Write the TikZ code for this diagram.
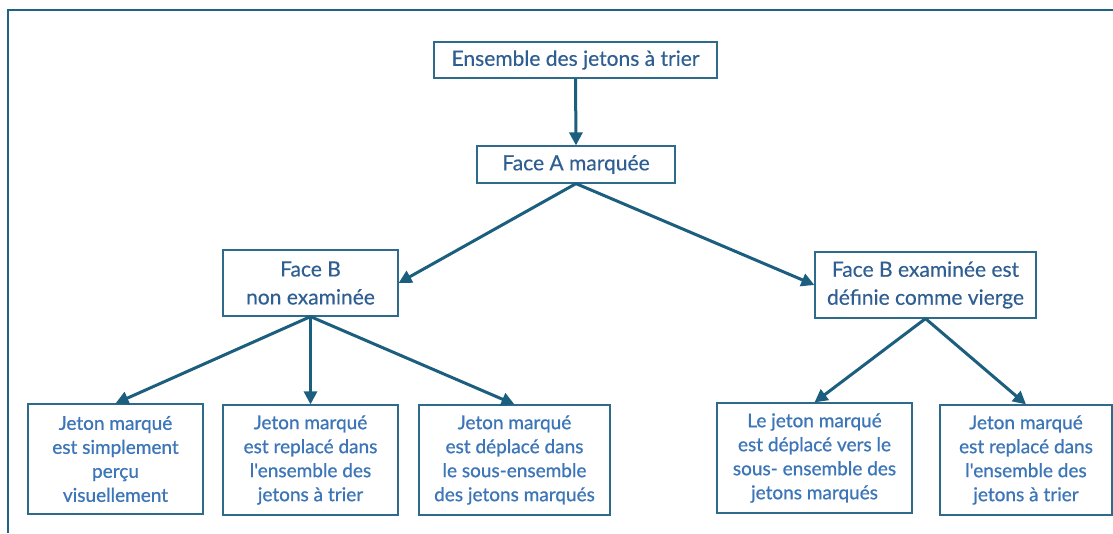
\documentclass[tikz,border=0pt]{standalone}
\usepackage{fontspec}
\setmainfont{Lato}
\newfontfamily\upfont{Lato}[FakeBold=0.4]
\newfontfamily\lowfont{Lato}[FakeBold=0.9]
\usetikzlibrary{arrows.meta}
\definecolor{framec}{HTML}{1F6384}
\definecolor{arrc}{HTML}{1B5E7E}
\definecolor{boxc}{HTML}{2E6A8A}
\definecolor{txtup}{HTML}{2F5F92}
\definecolor{txtlow}{HTML}{3D76B8}
\tikzset{
  upbox/.style={draw=boxc, line width=1.2pt, inner sep=0pt, align=center,
    text=txtup, font=\upfont\fontsize{21}{28}\selectfont},
  lowbox/.style={draw=boxc, line width=1.2pt, inner sep=0pt, align=center,
    text=txtlow, font=\lowfont\fontsize{19}{24}\selectfont, minimum height=110pt},
  arr/.style={draw=arrc, line width=3pt, -{Triangle[length=13pt,width=13pt]}}
}
\begin{document}
\begin{tikzpicture}[x=1pt,y=-1pt]
\useasboundingbox (0,0) rectangle (1113,533);
\draw[framec, line width=2.5pt] (8,533) -- (8,10) -- (1113,10);
\node[upbox, minimum width=283pt, minimum height=36pt] (top) at (575.5,60) {Ensemble des jetons à trier};
\node[upbox, minimum width=198pt, minimum height=37pt] (fa) at (576,164.5) {Face A marquée};
\node[upbox, minimum width=175pt, minimum height=66pt] (fbn) at (310.5,283) {Face B\\non examinée};
\node[upbox, minimum width=221pt, minimum height=66pt] (fbe) at (925.5,285) {Face B examinée est\\définie comme vierge};
\node[lowbox, minimum width=175pt] (b1) at (115.5,459) {Jeton marqué\\est simplement\\perçu\\visuellement};
\node[lowbox, minimum width=175pt] (b2) at (310.5,460) {Jeton marqué\\est replacé dans\\l'ensemble des\\jetons à trier};
\node[lowbox, minimum width=191pt] (b3) at (514.5,460) {Jeton marqué\\est déplacé dans\\le sous-ensemble\\des jetons marqués};
\node[lowbox, minimum width=195pt] (b4) at (814.5,458) {Le jeton marqué\\est déplacé vers le\\sous- ensemble des\\jetons marqués};
\node[lowbox, minimum width=172pt] (b5) at (1026,460) {Jeton marqué\\est replacé dans\\l'ensemble des\\jetons à trier};
\draw[arr] (top.south) -- (fa.north);
\draw[arr] (fa.south) -- (fbn.east);
\draw[arr] (fa.south) -- (fbe.west);
\draw[arr] (fbn.south) -- (b1.north);
\draw[arr] (fbn.south) -- (b2.north);
\draw[arr] (fbn.south) -- (b3.north);
\draw[arr] (fbe.south) -- (b4.north);
\draw[arr] (fbe.south) -- (b5.north);
\end{tikzpicture}
\end{document}
